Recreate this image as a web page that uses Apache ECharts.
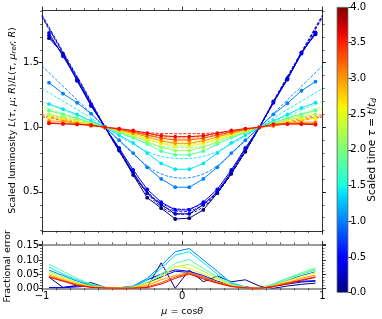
<!DOCTYPE html>
<html><head><meta charset="utf-8">
<script src="https://cdn.jsdelivr.net/npm/echarts@6/dist/echarts.min.js"></script>
<style>html,body{margin:0;padding:0;background:#fff}#c{width:382px;height:319px}</style>
</head><body><div id="c"></div>
<script>
// ---------------- data ----------------
const mu = [-0.95,-0.85,-0.75,-0.65,-0.55,-0.45,-0.35,-0.25,-0.15,-0.05,0.05,0.15,0.25,0.35,0.45,0.55,0.65,0.75,0.85,0.95];
const muModel = [-1,-0.9,-0.8,-0.7,-0.6,-0.5,-0.4,-0.3,-0.2,-0.1,0,0.1,0.2,0.3,0.4,0.5,0.6,0.7,0.8,0.9,1];
const tauValues = [0.0,0.25,0.5,1.0,1.4,1.8,2.2,2.6,3.0,3.3,3.6];

// scaled luminosity (markers + solid lines)
const lum_t00 = [1.69,1.57,1.36,1.165,1.0,0.82,0.63,0.455,0.374,0.29,0.296,0.36,0.49,0.64,0.81,1.0,1.2,1.38,1.58,1.72];
const lum_t025 = [1.71,1.56,1.365,1.17,1.0,0.83,0.65,0.49,0.40,0.33,0.33,0.40,0.50,0.655,0.83,1.0,1.195,1.375,1.575,1.73];
const lum_t05 = [1.73,1.55,1.37,1.18,1.0,0.84,0.67,0.52,0.42,0.36,0.36,0.42,0.52,0.67,0.84,1.0,1.19,1.37,1.57,1.735];
const lum_t10 = [1.345,1.26,1.19,1.105,1.0,0.90,0.80,0.69,0.60,0.536,0.536,0.60,0.69,0.80,0.90,1.0,1.10,1.186,1.283,1.353];
const lum_t14 = [1.18,1.14,1.10,1.05,1.0,0.94,0.88,0.80,0.72,0.675,0.675,0.72,0.80,0.88,0.94,1.0,1.05,1.10,1.15,1.19];
const lum_t18 = [1.13,1.10,1.07,1.035,1.0,0.96,0.92,0.87,0.815,0.786,0.786,0.815,0.87,0.92,0.96,1.0,1.035,1.07,1.10,1.13];
const lum_t22 = [1.10,1.08,1.055,1.028,1.0,0.97,0.935,0.89,0.845,0.819,0.819,0.845,0.89,0.935,0.97,1.0,1.028,1.055,1.08,1.10];
const lum_t26 = [1.075,1.06,1.04,1.02,1.0,0.975,0.945,0.91,0.875,0.855,0.855,0.875,0.91,0.945,0.975,1.0,1.02,1.04,1.06,1.07];
const lum_t30 = [1.05,1.045,1.03,1.015,1.0,0.98,0.955,0.925,0.895,0.876,0.876,0.895,0.925,0.955,0.98,1.0,1.015,1.03,1.04,1.04];
const lum_t33 = [1.035,1.03,1.025,1.012,1.0,0.985,0.965,0.94,0.915,0.902,0.902,0.915,0.94,0.965,0.985,1.0,1.012,1.025,1.03,1.03];
const lum_t36 = [1.03,1.026,1.022,1.018,1.0,0.99,0.975,0.955,0.935,0.927,0.927,0.935,0.955,0.975,0.99,1.0,1.025,1.026,1.024,1.02];

// model curves (dashed)
const model_t00 = [1.87,1.68,1.49,1.30,1.10,0.91,0.73,0.56,0.43,0.35,0.325,0.35,0.43,0.56,0.73,0.91,1.10,1.30,1.49,1.68,1.87];
const model_t025 = [1.86,1.67,1.48,1.29,1.095,0.905,0.725,0.56,0.44,0.37,0.345,0.37,0.44,0.56,0.725,0.905,1.095,1.29,1.48,1.67,1.86];
const model_t05 = [1.85,1.665,1.475,1.285,1.09,0.905,0.73,0.57,0.45,0.385,0.365,0.385,0.45,0.57,0.73,0.905,1.09,1.285,1.475,1.665,1.85];
const model_t10 = [1.476,1.37,1.265,1.16,1.053,0.947,0.845,0.745,0.665,0.62,0.606,0.62,0.665,0.745,0.845,0.947,1.053,1.16,1.265,1.37,1.476];
const model_t14 = [1.30,1.235,1.17,1.105,1.035,0.967,0.90,0.84,0.79,0.765,0.757,0.765,0.79,0.84,0.90,0.967,1.035,1.105,1.17,1.235,1.30];
const model_t18 = [1.20,1.155,1.11,1.066,1.022,0.978,0.935,0.895,0.862,0.845,0.84,0.845,0.862,0.895,0.935,0.978,1.022,1.066,1.11,1.155,1.20];
const model_t22 = [1.16,1.125,1.09,1.054,1.018,0.982,0.947,0.915,0.89,0.875,0.87,0.875,0.89,0.915,0.947,0.982,1.018,1.054,1.09,1.125,1.16];
const model_t26 = [1.14,1.11,1.078,1.047,1.016,0.984,0.954,0.927,0.905,0.892,0.888,0.892,0.905,0.927,0.954,0.984,1.016,1.047,1.078,1.11,1.14];
const model_t30 = [1.10,1.08,1.057,1.035,1.012,0.988,0.965,0.945,0.928,0.918,0.915,0.918,0.928,0.945,0.965,0.988,1.012,1.035,1.057,1.08,1.10];
const model_t33 = [1.09,1.07,1.05,1.03,1.01,0.99,0.97,0.952,0.938,0.93,0.927,0.93,0.938,0.952,0.97,0.99,1.01,1.03,1.05,1.07,1.09];
const model_t36 = [1.08,1.063,1.045,1.027,1.009,0.991,0.975,0.962,0.955,0.951,0.95,0.951,0.955,0.962,0.975,0.991,1.009,1.027,1.045,1.063,1.08];

// fractional error (bottom panel)
const err_t00 = [0.039,0.003,0.01,0.02,0.003,0.002,0.003,0.003,0.09,0.0,0.064,0.023,0.043,0.023,0.03,0.008,0.0,0.008,0.014,0.018];
const err_t025 = [0.003,0.003,0.008,0.012,0.002,0.002,0.003,0.02,0.04,0.06,0.056,0.04,0.02,0.01,0.004,0.0,0.01,0.02,0.025,0.027];
const err_t05 = [0.002,0.002,0.005,0.008,0.002,0.002,0.005,0.03,0.05,0.065,0.06,0.045,0.025,0.012,0.004,0.0,0.008,0.015,0.022,0.025];
const err_t10 = [0.064,0.045,0.025,0.01,0.002,0.002,0.008,0.035,0.08,0.129,0.14,0.1,0.06,0.018,0.005,0.0,0.012,0.028,0.045,0.058];
const err_t14 = [0.075,0.05,0.03,0.012,0.003,0.002,0.006,0.03,0.07,0.117,0.129,0.09,0.05,0.02,0.004,0.0,0.015,0.035,0.05,0.065];
const err_t18 = [0.085,0.06,0.035,0.015,0.003,0.002,0.004,0.02,0.05,0.088,0.102,0.07,0.04,0.015,0.003,0.0,0.015,0.035,0.055,0.072];
const err_t22 = [0.06,0.04,0.02,0.008,0.002,0.001,0.004,0.02,0.045,0.075,0.085,0.06,0.035,0.012,0.003,0.0,0.01,0.03,0.05,0.07];
const err_t26 = [0.053,0.035,0.018,0.006,0.002,0.001,0.003,0.015,0.035,0.0785,0.07,0.05,0.03,0.01,0.002,0.0,0.01,0.025,0.04,0.055];
const err_t30 = [0.047,0.03,0.015,0.005,0.001,0.001,0.002,0.01,0.03,0.045,0.056,0.04,0.022,0.008,0.002,0.0,0.008,0.02,0.035,0.047];
const err_t33 = [0.042,0.027,0.012,0.004,0.001,0.0,0.001,0.005,0.02,0.04,0.053,0.036,0.02,0.007,0.002,0.0,0.007,0.018,0.03,0.041];
const err_t36 = [0.039,0.025,0.01,0.003,0.001,0.0,0.0,0.002,0.015,0.035,0.05,0.033,0.018,0.006,0.001,0.0,0.006,0.015,0.028,0.038];

const lumTicks = [0.5,1.0,1.5];
const lumMinorTicks = [0.2,0.3,0.4,0.5,0.6,0.7,0.8,0.9,1.0,1.1,1.2,1.3,1.4,1.5,1.6,1.7,1.8,1.9];
const tauMin = 0, tauMax = 4;

const lumSets = [lum_t00,lum_t025,lum_t05,lum_t10,lum_t14,lum_t18,lum_t22,lum_t26,lum_t30,lum_t33,lum_t36];
const modelSets = [model_t00,model_t025,model_t05,model_t10,model_t14,model_t18,model_t22,model_t26,model_t30,model_t33,model_t36];
const errSets = [err_t00,err_t025,err_t05,err_t10,err_t14,err_t18,err_t22,err_t26,err_t30,err_t33,err_t36];

// ---------------- styling helpers ----------------
const F = 'DejaVu Sans';
function seg(pts, x){
  for (let i=1;i<pts.length;i++){
    if (x <= pts[i][0]){
      const [x0,y0]=pts[i-1],[x1,y1]=pts[i];
      return y0 + (y1-y0)*(x-x0)/(x1-x0);
    }
  }
  return pts[pts.length-1][1];
}
function jet(x){
  const r = seg([[0,0],[0.35,0],[0.66,1],[0.89,1],[1,0.5]], x);
  const g = seg([[0,0],[0.125,0],[0.375,1],[0.64,1],[0.91,0],[1,0]], x);
  const b = seg([[0,0.5],[0.11,1],[0.34,1],[0.65,0],[1,0]], x);
  const h = v => Math.round(Math.max(0,Math.min(1,v))*255).toString(16).padStart(2,'0');
  return '#'+h(r)+h(g)+h(b);
}
const gradStops = [];
for (let i=0;i<=40;i++) gradStops.push({offset:i/40, color: jet(i/40)});

const txt = {fontFamily:F, fontSize:10, color:'#000'};
const nameTxt = {fontFamily:F, fontSize:9.5, color:'#000'};
const tick = (len, show=true) => ({show, inside:false, length:len, lineStyle:{color:'#000', width:0.8}});
const line = (c='#000', w=0.8) => ({show:true, onZero:false, lineStyle:{color:c, width:w}});
const noLine = {show:false, onZero:false};
const minor = (n) => ({show:true, splitNumber:n, length:2, lineStyle:{color:'#000',width:0.6}});

const xAxes = [
  {gridIndex:0, type:'value', min:-1, max:1, interval:1, position:'bottom', axisLine:line(), axisTick:tick(3.5), minorTick:minor(10), axisLabel:{show:false}, splitLine:{show:false}},
  {gridIndex:0, type:'value', min:-1, max:1, interval:1, position:'top', axisLine:line(), axisTick:tick(3.5), minorTick:minor(10), axisLabel:{show:false}, splitLine:{show:false}},
  {gridIndex:1, type:'value', min:-1, max:1, interval:1, position:'bottom', axisLine:line('#7a7a7a',1.6), axisTick:tick(3.5), minorTick:minor(10),
    axisLabel:Object.assign({margin:3, formatter: v => v<0 ? '\u2212'+Math.abs(v) : String(v)}, txt), splitLine:{show:false},
    name:'{i|μ} = cos{i|θ}', nameLocation:'middle', nameGap:18, nameMoveOverlap:false,
    nameTextStyle:Object.assign({rich:{i:{fontFamily:F,fontSize:9.5,fontStyle:'italic'}}}, nameTxt)},
  {gridIndex:1, type:'value', min:-1, max:1, interval:1, position:'top', axisLine:line('#7a7a7a',1.6), axisTick:tick(3.5), minorTick:minor(10), axisLabel:{show:false}, splitLine:{show:false}},
  {gridIndex:2, type:'category', data:['c'], show:false}
];

const lumMin = 0.197, lumMax = 1.908;
const yAxes = [
  {gridIndex:0, type:'value', min:lumMin, max:lumMax, position:'left', axisLine:line(),
    axisTick:Object.assign(tick(3.5),{customValues:lumTicks}),
    axisLabel:Object.assign({margin:3, customValues:lumTicks, formatter: v=>v.toFixed(1)}, txt), splitLine:{show:false},
    name:'{a|Scaled luminosity }{b|L}{a|(}{b|τ}{a|, }{b|μ}{a|; }{b|R}{a|)/}{b|L}{a|(}{b|τ}{a|, }{b|μ}{c|ref}{a|; }{b|R}{a|)}',
    nameLocation:'middle', nameGap:24, nameRotate:90, nameMoveOverlap:false,
    nameTextStyle:Object.assign({rich:{a:{fontFamily:F,fontSize:9.5},b:{fontFamily:F,fontSize:9.5,fontStyle:'italic'},c:{fontFamily:F,fontSize:7,fontStyle:'italic',verticalAlign:'bottom',padding:[4,0,0,0]}}}, nameTxt)},
  {gridIndex:0, type:'value', min:lumMin, max:lumMax, position:'left', axisLine:noLine,
    axisTick:Object.assign(tick(2),{customValues:lumMinorTicks, lineStyle:{color:'#000',width:0.6}}), axisLabel:{show:false}, splitLine:{show:false}},
  {gridIndex:0, type:'value', min:lumMin, max:lumMax, position:'right', axisLine:line(),
    axisTick:Object.assign(tick(3.5),{customValues:lumTicks}), axisLabel:{show:false}, splitLine:{show:false}},
  {gridIndex:0, type:'value', min:lumMin, max:lumMax, position:'right', axisLine:noLine,
    axisTick:Object.assign(tick(2),{customValues:lumMinorTicks, lineStyle:{color:'#000',width:0.6}}), axisLabel:{show:false}, splitLine:{show:false}},
  {gridIndex:1, type:'value', min:0, max:0.155, interval:0.05, position:'left', axisLine:line(), axisTick:tick(3.5),
    minorTick:minor(5),
    axisLabel:Object.assign({margin:3, formatter: v=>v.toFixed(2), showMaxLabel:false}, txt), splitLine:{show:false},
    name:'Fractional error', nameLocation:'middle', nameGap:29, nameRotate:90, nameMoveOverlap:false, nameTextStyle:nameTxt},
  {gridIndex:1, type:'value', min:0, max:0.155, interval:0.05, position:'right', axisLine:line(), axisTick:tick(3.5),
    minorTick:minor(5), axisLabel:{show:false}, splitLine:{show:false}},
  {gridIndex:2, type:'value', min:tauMin, max:tauMax, interval:0.5, position:'right', axisLine:noLine, axisTick:tick(3.5),
    axisLabel:Object.assign({margin:2, formatter: v=>v.toFixed(1)}, txt), splitLine:{show:false},
    name:'{a|Scaled time }{b|τ}{a| = }{b|t}{a|/}{b|t}{c|d}', nameLocation:'middle', nameGap:18, nameRotate:90, nameMoveOverlap:false,
    nameTextStyle:Object.assign({rich:{a:{fontFamily:F,fontSize:10.5},b:{fontFamily:F,fontSize:10.5,fontStyle:'italic'},c:{fontFamily:F,fontSize:7.5,fontStyle:'italic',verticalAlign:'bottom',padding:[4,0,0,0]}}}, txt)}
];

const series = [];
tauValues.forEach((tau, k) => {
  const col = jet((tau - tauMin)/(tauMax - tauMin));
  series.push({type:'line', xAxisIndex:0, yAxisIndex:0, data: muModel.map((m,i)=>[m, modelSets[k][i]]),
    showSymbol:false, smooth:0.25, lineStyle:{color:col, width:0.9, type:[3,1.6]}, z:2});
});
tauValues.forEach((tau, k) => {
  const col = jet((tau - tauMin)/(tauMax - tauMin));
  series.push({type:'line', xAxisIndex:0, yAxisIndex:0, data: mu.map((m,i)=>[m, lumSets[k][i]]),
    symbol:'circle', symbolSize:3.8, itemStyle:{color:col, borderWidth:0}, lineStyle:{color:col, width:1}, z:3});
  series.push({type:'line', xAxisIndex:2, yAxisIndex:4, data: mu.map((m,i)=>[m, errSets[k][i]]),
    showSymbol:false, lineStyle:{color:col, width:1}, z:3});
});
series.push({type:'bar', xAxisIndex:4, yAxisIndex:6, data:[tauMax], barWidth:'100%',
  itemStyle:{borderColor:'#555', borderWidth:0.8, color:{type:'linear', x:0, y:1, x2:0, y2:0, colorStops:gradStops}}});

const chart = echarts.init(document.getElementById('c'), null, {renderer:'canvas'});
chart.setOption({
  animation:false,
  backgroundColor:'#fff',
  grid:[
    {left:42, top:10, width:280.5, height:221, outerBoundsMode:'none', containLabel:false},
    {left:42, top:244.3, width:280.5, height:44, outerBoundsMode:'none', containLabel:false},
    {left:336.7, top:7, width:11.6, height:285.7, outerBoundsMode:'none', containLabel:false}
  ],
  xAxis:xAxes, yAxis:yAxes, series
});
</script></body></html>
